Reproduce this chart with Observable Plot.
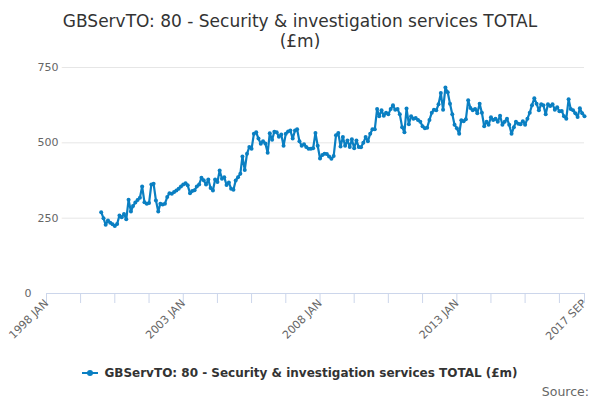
<!DOCTYPE html>
<html><head><meta charset="utf-8">
<script src="https://cdn.jsdelivr.net/npm/d3@7"></script>
<script src="https://cdn.jsdelivr.net/npm/@observablehq/plot@0.6"></script>
<style>
body{margin:0;width:600px;height:400px;overflow:hidden;background:#fff;font-family:"DejaVu Sans",sans-serif;}
#title{position:absolute;top:11px;left:0;width:600px;text-align:center;font-size:17px;color:#333;line-height:20px;}
#chart{position:absolute;top:55px;left:0;}
#legend{position:absolute;top:366px;left:0;width:600px;text-align:center;font-size:12px;font-weight:bold;color:#333;}
#legend .sym{display:inline-block;position:relative;width:16px;height:2px;background:#0a7fc2;vertical-align:middle;margin-right:6px;top:-1px;}
#legend .sym i{position:absolute;left:5px;top:-2px;width:6px;height:6px;border-radius:3px;background:#0a7fc2;}
#source{position:absolute;top:384px;right:11px;font-size:12.5px;color:#666;}
</style></head>
<body>
<div id="title">GBServTO: 80 - Security &amp; investigation services TOTAL<br>(£m)</div>
<div id="chart"></div>
<div id="legend"><span class="sym"><i></i></span>GBServTO: 80 - Security &amp; investigation services TOTAL (£m)</div>
<div id="source">Source:</div>
<script>
const seriesName = "GBServTO: 80 - Security & investigation services TOTAL (£m)";
const startYear = 2000;
const v2000 = [270, 250, 228, 242, 235, 230, 224, 231, 259, 253, 264, 246];
const v2001 = [311, 272, 290, 302, 310, 318, 355, 303, 298, 300, 362, 364];
const v2002 = [309, 272, 298, 295, 298, 320, 333, 331, 337, 342, 348, 355];
const v2003 = [362, 366, 359, 333, 340, 343, 355, 362, 384, 376, 362, 378];
const v2004 = [350, 342, 378, 370, 408, 381, 386, 360, 368, 348, 344, 375];
const v2005 = [386, 397, 455, 410, 464, 486, 480, 530, 535, 514, 497, 505];
const v2006 = [498, 467, 532, 510, 537, 535, 520, 528, 490, 530, 538, 541];
const v2007 = [514, 541, 545, 505, 490, 495, 486, 480, 480, 482, 533, 490];
const v2008 = [448, 460, 464, 463, 455, 447, 456, 525, 533, 488, 519, 490];
const v2009 = [508, 486, 512, 482, 508, 486, 485, 500, 519, 505, 530, 545];
const v2010 = [545, 612, 588, 608, 590, 600, 595, 612, 625, 610, 612, 595];
const v2011 = [552, 535, 614, 562, 588, 580, 582, 576, 570, 555, 548, 550];
const v2012 = [576, 600, 610, 608, 628, 665, 610, 684, 668, 630, 595, 560];
const v2013 = [548, 530, 575, 572, 578, 641, 616, 608, 612, 598, 630, 600];
const v2014 = [555, 570, 560, 585, 576, 580, 570, 590, 560, 570, 580, 560];
const v2015 = [530, 552, 570, 563, 562, 572, 560, 580, 600, 625, 648, 630];
const v2016 = [608, 628, 625, 595, 628, 622, 628, 610, 618, 605, 606, 588];
const v2017 = [580, 645, 612, 608, 598, 586, 615, 598, 588];

const years = [v2000,v2001,v2002,v2003,v2004,v2005,v2006,v2007,v2008,v2009,v2010,v2011,v2012,v2013,v2014,v2015,v2016,v2017];

const xDomain = ["1998-01", "2017-09"];
const tickMonths = ["1998-01","1999-04","2000-07","2001-10","2003-01","2004-04","2005-07","2006-10","2008-01","2009-04","2010-07","2011-10","2013-01","2014-04","2015-07","2016-10","2017-09"];
const labelMonths = ["1998-01","2003-01","2008-01","2013-01","2017-09"];
const labelTexts = ["1998 JAN","2003 JAN","2008 JAN","2013 JAN","2017 SEP"];
const yTicks = [0, 250, 500, 750];
const yTicksUpper = [250, 500, 750];
const yTicksZero = [0];

const color = "#0a7fc2";
const parseM = s => { const [y,m] = s.split("-").map(Number); return new Date(Date.UTC(y, m-1, 1)); };

const data = [];
years.forEach((arr, yi) => arr.forEach((v, mi) => data.push({date: new Date(Date.UTC(startYear + yi, mi, 1)), value: v})));

const labelMap = new Map(labelMonths.map((s,i) => [+parseM(s), labelTexts[i]]));

const chart = Plot.plot({
  width: 600, height: 300,
  marginLeft: 46, marginRight: 16, marginTop: 12, marginBottom: 62,
  style: {fontFamily: "DejaVu Sans, sans-serif", background: "#fff"},
  x: {type: "utc", domain: xDomain.map(parseM), axis: null},
  y: {domain: [0, 750], axis: null},
  marks: [
    Plot.gridY(yTicks.slice(1), {stroke: "#e6e6e6", strokeOpacity: 1}),
    Plot.text(yTicksUpper, {y: d => d, text: d => String(d), frameAnchor: "left", textAnchor: "end", dx: 12, fill: "#666", fontSize: 11, stroke: "white", strokeWidth: 8}),
    Plot.text(yTicksZero, {y: d => d, text: d => String(d), frameAnchor: "left", textAnchor: "end", dx: -15, fill: "#666", fontSize: 11}),
    Plot.ruleY([0], {stroke: "#ccd6eb"}),
    Plot.axisX(tickMonths.map(parseM), {tickSize: 10, stroke: "#ccd6eb", strokeOpacity: 1, tickFormat: () => ""}),
    Plot.axisX(labelMonths.map(parseM), {tickSize: 0, tickPadding: 8, tickRotate: -45, tickFormat: d => labelMap.get(+d), fill: "#666", fontSize: 11}),
    Plot.line(data, {x: "date", y: "value", stroke: color, strokeWidth: 2.2}),
    Plot.dot(data, {x: "date", y: "value", r: 2, fill: color})
  ]
});
document.getElementById("chart").appendChild(chart);
</script>
</body></html>
